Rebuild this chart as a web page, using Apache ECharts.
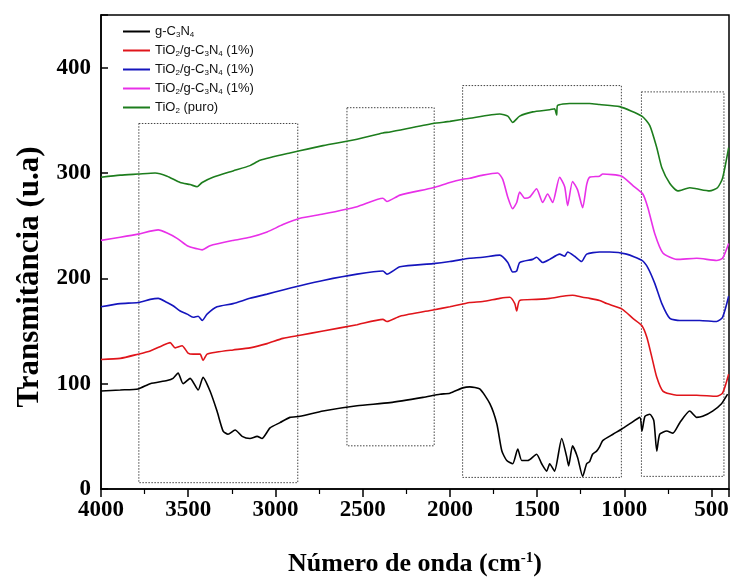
<!DOCTYPE html>
<html>
<head>
<meta charset="utf-8">
<script src="https://cdn.jsdelivr.net/npm/echarts@6/dist/echarts.min.js"></script>
<style>html,body{margin:0;padding:0;background:#fff;}#c{width:734px;height:586px;}</style>
</head>
<body>
<div id="c"></div>
<script>
// ---- data (wavenumber cm-1, transmittance u.a.) ----
const seriesNames = ['g-C3N4', 'TiO2/g-C3N4 (1%) a', 'TiO2/g-C3N4 (1%) b', 'TiO2/g-C3N4 (1%) c', 'TiO2 (puro)'];
const legendLabels = [
  'g-C{s|3}N{s|4}',
  'TiO{s|2}/g-C{s|3}N{s|4} (1%)',
  'TiO{s|2}/g-C{s|3}N{s|4} (1%)',
  'TiO{s|2}/g-C{s|3}N{s|4} (1%)',
  'TiO{s|2} (puro)'
];
const colors = ['#000000', '#e0151b', '#1515bd', '#e830e8', '#1d7d1d'];

const gcnWn = [4000,3890,3787,3718,3621,3587,3558,3529,3489,3443,3415,3375,3335,3300,3272,3231,3191,3146,3105,3077,3031,2974,2917,2859,2727,2532,2343,2154,2057,2000,1926,1886,1829,1771,1731,1702,1674,1640,1611,1588,1554,1503,1474,1445,1428,1400,1359,1331,1319,1297,1268,1239,1216,1199,1182,1159,1142,1124,1065,1014,968,911,899,882,854,831,814,797,757,722,682,625,585,551,494,443,408];
const gcnT  = [93,94,95,100,103,105,110,100,105,94,106,93,74,55,52,56,50,48,50,48,58,63,68,69,74,79,82,87,90,91,96,97,95,81,62,36,27,24,38,27,27,33,24,17,24,17,48,31,22,41,30,12,24,26,33,36,40,46,52,57,62,68,55,69,71,65,36,52,55,53,63,74,68,69,74,81,90];

const redWn = [4000,3890,3787,3718,3650,3604,3575,3535,3501,3472,3432,3415,3392,3335,3243,3146,3048,2957,2859,2727,2532,2384,2361,2286,2097,2000,1886,1811,1714,1657,1628,1617,1600,1503,1428,1354,1297,1239,1199,1142,1101,1015,951,899,871,842,814,779,699,585,471,437,402];
const redT  = [123,124,128,131,136,139,134,136,129,128,128,122,128,130,132,134,138,143,146,150,156,161,159,164,170,173,177,178,181,182,176,169,179,180,181,183,184,182,181,179,176,171,162,155,144,125,106,93,89,89,88,91,109];

const blueWn = [4000,3890,3787,3718,3672,3621,3587,3546,3506,3472,3443,3420,3392,3335,3243,3146,3048,2957,2859,2727,2532,2384,2361,2286,2097,2000,1926,1886,1811,1714,1668,1640,1617,1600,1525,1503,1468,1428,1371,1342,1325,1285,1245,1216,1142,1084,987,899,865,825,785,739,682,568,471,437,402];
const blueT  = [173,176,177,180,181,177,174,169,166,163,164,160,166,173,176,181,185,189,193,198,204,207,204,211,214,216,218,219,220,222,215,206,207,215,218,220,215,218,223,221,225,221,216,223,225,225,223,217,210,195,176,162,160,160,159,163,183];

const magWn = [4000,3890,3787,3672,3621,3564,3506,3449,3420,3375,3243,3146,3048,2957,2859,2727,2532,2384,2361,2286,2097,2000,1926,1886,1811,1726,1697,1668,1640,1617,1600,1571,1543,1503,1468,1440,1411,1371,1342,1325,1297,1268,1239,1216,1199,1142,1124,1015,951,894,865,825,779,699,585,471,437,402];
const magT  = [236,239,242,246,243,238,231,228,227,231,236,239,244,251,257,261,268,276,273,279,286,291,294,295,298,300,294,277,266,272,282,276,277,285,272,280,272,296,287,269,292,284,267,289,296,297,299,297,288,280,267,242,224,218,219,217,219,233];

const grnWn = [4000,3890,3787,3690,3621,3546,3489,3449,3420,3358,3243,3146,3088,2917,2727,2532,2384,2343,2097,2000,1886,1714,1668,1640,1600,1525,1428,1400,1388,1383,1314,1239,1199,1142,1027,899,854,814,785,739,694,625,585,511,466,437,402];
const grnT  = [296,298,299,300,297,291,289,287,291,296,302,307,312,319,326,332,338,339,347,349,352,356,354,348,354,358,360,361,355,364,366,366,366,365,363,354,345,324,305,290,283,286,285,283,286,295,324];

// dotted boxes: [wnStart, wnEnd, Ttop, Tbottom]
const boxes = [[3783,2872,347,6],[2590,2090,362,41],[1927,1017,383,11],[902,429,377,12]];

const xTicks = [4000,3500,3000,2500,2000,1500,1000,500];
const yTicks = [0,100,200,300,400];

const wnSets = [gcnWn, redWn, blueWn, magWn, grnWn];
const tSets = [gcnT, redT, blueT, magT, grnT];

const chart = echarts.init(document.getElementById('c'), null, {renderer: 'canvas'});
const serif = 'Liberation Serif';

const series = seriesNames.map((n, i) => {
  const s = {
    name: n,
    type: 'line',
    data: wnSets[i].map((w, k) => [w, tSets[i][k]]),
    symbol: 'none',
    smooth: 0.2,
    lineStyle: {color: colors[i], width: 1.6},
    itemStyle: {color: colors[i]},
    emphasis: {disabled: true},
    z: 3
  };
  if (i === 0) {
    s.markArea = {
      silent: true,
      z: 1,
      itemStyle: {color: 'rgba(0,0,0,0)', borderColor: '#444', borderWidth: 1, borderType: [1.5, 1.5]},
      label: {show: false},
      emphasis: {disabled: true},
      data: boxes.map(b => [{xAxis: b[0], yAxis: b[2]}, {xAxis: b[1], yAxis: b[3]}])
    };
  }
  return s;
});

chart.setOption({
  animation: false,
  backgroundColor: '#fff',
  grid: {left: 101, right: 5, top: 15, bottom: 97, show: true, borderColor: '#000', borderWidth: 1.5, backgroundColor: 'transparent'},
  legend: {
    orient: 'vertical', left: 118, top: 19,
    data: seriesNames,
    itemWidth: 27, itemHeight: 10, itemGap: 4,
    icon: 'path://M0,0 L27,0 L27,2 L0,2 Z',
    selectedMode: false,
    formatter: name => legendLabels[seriesNames.indexOf(name)],
    textStyle: {fontFamily: 'Liberation Sans', fontSize: 13, color: '#111', lineHeight: 14,
      rich: {s: {fontFamily: 'Liberation Sans', fontSize: 8, verticalAlign: 'bottom', lineHeight: 15, color: '#111'}}}
  },
  xAxis: {
    type: 'value', inverse: true, min: 400, max: 4000, splitNumber: 7,
    axisLine: {show: true, onZero: false, lineStyle: {color: '#000', width: 1.5}},
    axisTick: {show: true, inside: false, length: 8, lineStyle: {color: '#000', width: 1.5}},
    minorTick: {show: true, splitNumber: 2, length: 5, lineStyle: {color: '#000', width: 1.2}},
    splitLine: {show: false},
    axisLabel: {
      margin: 10, color: '#000', fontFamily: serif, fontWeight: 'bold', fontSize: 23,
      formatter: v => (xTicks.indexOf(v) >= 0 ? String(v) : '')
    },
    name: 'Número de onda (cm{sup|-1})',
    nameLocation: 'middle', nameGap: 62,
    nameTextStyle: {fontFamily: serif, fontWeight: 'bold', fontSize: 26, color: '#000',
      rich: {sup: {fontFamily: serif, fontWeight: 'bold', fontSize: 15, verticalAlign: 'top', color: '#000'}}}
  },
  yAxis: {
    type: 'value', min: 0, max: 450, interval: 100,
    axisLine: {show: true, onZero: false, lineStyle: {color: '#000', width: 1.5}},
    axisTick: {show: true, inside: true, length: 7, lineStyle: {color: '#000', width: 1.5}},
    splitLine: {show: false},
    axisLabel: {
      margin: 10, color: '#000', fontFamily: serif, fontWeight: 'bold', fontSize: 23,
      formatter: v => (yTicks.indexOf(v) >= 0 ? String(v) : '')
    },
    name: 'Transmitância (u.a)',
    nameLocation: 'middle', nameGap: 55, nameRotate: 90,
    nameTextStyle: {fontFamily: serif, fontWeight: 'bold', fontSize: 31, color: '#000', padding: [0, 50, 0, 0]}
  },
  series: series
});
</script>
</body>
</html>
